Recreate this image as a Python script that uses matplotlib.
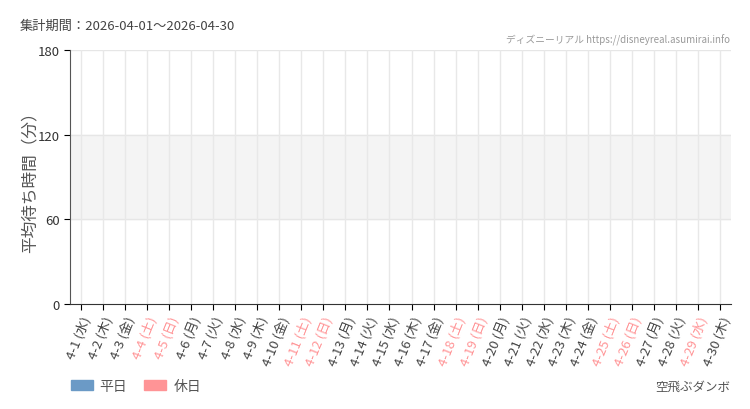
import numpy as np
import matplotlib
matplotlib.use('Agg')
import matplotlib.pyplot as plt
from matplotlib.patches import Patch

plt.rcParams['font.family'] = ['Noto Sans CJK JP', 'DejaVu Sans']

days = list(range(1, 31))
weekdays = ['水', '木', '金', '土', '日', '月', '火'] * 5
weekdays = weekdays[:30]
holidays = [4, 5, 11, 12, 18, 19, 25, 26, 29]
# no waiting-time data in this period
wait_times = [np.nan] * 30

labels = ['4-%d (%s)' % (d, w) for d, w in zip(days, weekdays)]
weekday_color = '#6b9ac6'
holiday_color = '#ff9496'

fig = plt.figure(figsize=(7.5, 4.1), dpi=100)
ax = fig.add_axes([70 / 750, 1 - 305 / 410, 661 / 750, 254 / 410])

x = np.arange(len(days))
colors = [holiday_color if d in holidays else weekday_color for d in days]
ax.bar(x, wait_times, color=colors, width=0.6)

ax.set_xlim(-0.5, len(days) - 0.5)
ax.set_ylim(0, 180)
ax.set_yticks([0, 60, 120, 180])
ax.axhspan(60, 120, color='#f4f4f4', zorder=0)
for yv in [60, 120, 180]:
    ax.axhline(yv, color='#e6e6e6', lw=1, zorder=0.5)
for xv in x:
    ax.axvline(xv, color='#e8e8e8', lw=1, zorder=0.5)

ax.set_xticks(x)
ax.set_xticklabels(labels, rotation=68, ha='right', rotation_mode='anchor', fontsize=9.5)
for lab, d in zip(ax.get_xticklabels(), days):
    lab.set_color(holiday_color if d in holidays else '#444444')

ax.tick_params(axis='y', labelsize=9.5, labelcolor='#333333', length=4)
ax.tick_params(axis='x', length=4, pad=3)
for s in ['top', 'right']:
    ax.spines[s].set_visible(False)
ax.spines['left'].set_color('#555555')
ax.spines['bottom'].set_color('#333333')
ax.set_ylabel('平均待ち時間（分）', fontsize=12, color='#555555', va='center')
ax.yaxis.set_label_coords(-0.06, 0.5)

fig.text(20 / 750, 1 - 26 / 410, '集計期間：2026-04-01～2026-04-30', fontsize=9.5,
         color='#444444', va='center')
fig.text(730 / 750, 1 - 40 / 410, 'ディズニーリアル https://disneyreal.asumirai.info',
         fontsize=7, color='#999999', ha='right', va='center')
fig.text(730 / 750, 1 - 387 / 410, '空飛ぶダンボ', fontsize=9, color='#555555',
         ha='right', va='center')

handles = [Patch(color=weekday_color), Patch(color=holiday_color)]
fig.legend(handles, ['平日', '休日'], loc='center left', bbox_to_anchor=(58 / 750, 1 - 387 / 410),
           ncol=2, frameon=False, fontsize=10, handlelength=1.6, handleheight=0.8,
           columnspacing=1.2, handletextpad=0.5, labelcolor='#555555')

fig.savefig('out.png', dpi=100)
